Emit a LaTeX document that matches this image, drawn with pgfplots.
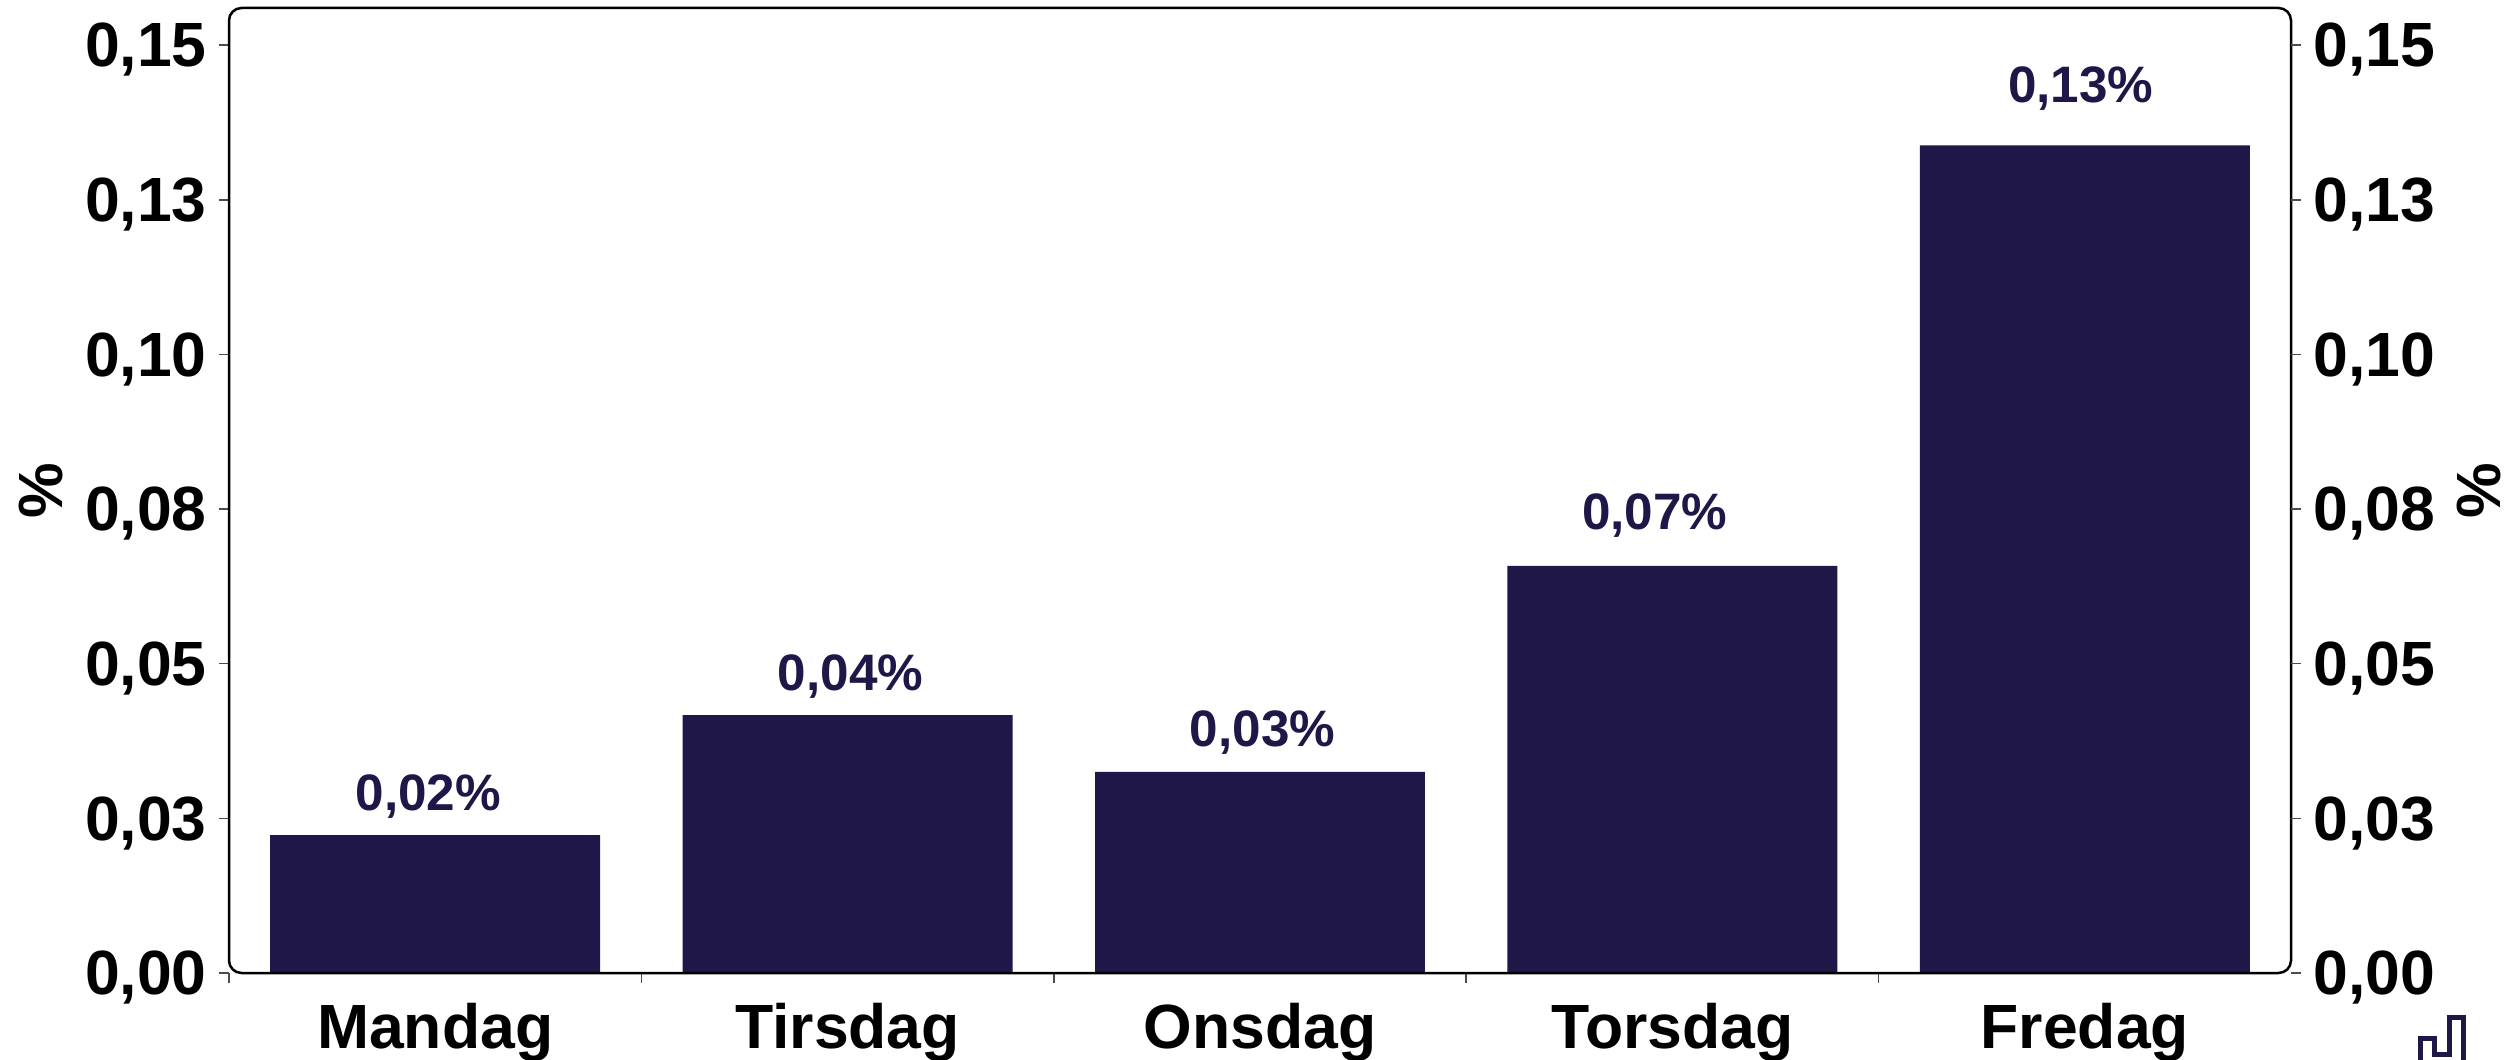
\documentclass[border=0pt]{standalone}
\usepackage{pgfplots}
\pgfplotsset{compat=1.18}
\usepackage{pgfplotstable}
\usepackage{fontspec}
\setmainfont{Liberation Sans}
\definecolor{barblue}{HTML}{1F1747}

\pgfplotstableread{
x y lab
0 0.0223 0.02
1 0.0417 0.04
2 0.0325 0.03
3 0.0658 0.07
4 0.1338 0.13
}\daydata

\pgfplotsset{
  common/.style={
    at={(91.6pt,34.4pt)}, anchor=south west,
    scale only axis, width=824.8pt, height=386pt,
    xmin=-0.5, xmax=4.5, ymin=0, ymax=0.156,
    ytick={0,0.025,0.05,0.075,0.1,0.125,0.15},
    yticklabels={{0,00},{0,03},{0,05},{0,08},{0,10},{0,13},{0,15}},
    tick align=outside,
    major tick length=4pt,
    tick style={draw=black!70, line width=0.6pt},
    ticklabel style={font=\fontsize{25}{25}\selectfont\bfseries},
    label style={font=\fontsize{25}{25}\selectfont\bfseries},
    axis line style={draw=none},
  },
}

\begin{document}
\begin{tikzpicture}
\path[use as bounding box] (0,0) rectangle (1003.6pt,423.6pt);
\begin{axis}[
    common,
    ytick pos=left,
    yticklabel style={inner sep=0pt, xshift=-4.7pt, yshift=-1.9pt},
    xtick={0,1,2,3,4},
    xticklabels={Mandag,Tirsdag,Onsdag,Torsdag,Fredag},
    minor xtick={-0.5,0.5,1.5,2.5,3.5},
    xtick pos=bottom,
    minor tick length=4pt,
    minor tick style={draw=black!70, line width=0.6pt},
    major x tick style={draw=none},
    xticklabel style={inner sep=0pt, text height=18pt, text depth=5.5pt, yshift=-7.8pt},
    ylabel={\%},
    ylabel style={at={(rel axis cs:0,0.5)}, anchor=center, rotate=0, yshift=75pt},
    after end axis/.code={
      \draw[black, line width=1pt, rounded corners=5pt] (rel axis cs:0,0) rectangle (rel axis cs:1,1);
    },
]
\addplot[ybar, bar width=0.8, bar shift=0, fill=barblue, draw=none,
    point meta=explicit,
    nodes near coords={\pgfmathprintnumber[fixed,zerofill,precision=2,use comma,assume math mode=true]{\pgfplotspointmeta}\%},
    every node near coord/.append style={font=\fontsize{20.5}{20.5}\selectfont\bfseries, text=barblue, anchor=base, inner sep=0pt, yshift=10pt},
    coordinate style/.condition={x==0}{xshift=-2.8pt},
    coordinate style/.condition={x==1}{xshift=1.2pt},
    coordinate style/.condition={x==2}{xshift=1pt},
    coordinate style/.condition={x==3}{xshift=-7pt, yshift=4.5pt},
    coordinate style/.condition={x==4}{xshift=-1.6pt, yshift=7pt},
] table[x=x, y=y, meta=lab] {\daydata};
\end{axis}
\begin{axis}[
    common,
    ytick pos=right,
    yticklabel pos=right,
    yticklabel style={inner sep=0pt, xshift=4.7pt, yshift=-1.9pt},
    xtick=\empty,
    ylabel={\%},
    ylabel style={at={(rel axis cs:1,0.5)}, anchor=center, rotate=0, yshift=-75pt},
]
\end{axis}
% logo, cut off by the page edge
\draw[barblue, line width=2pt, miter limit=10]
    (968.2pt,-2pt) -- (968.2pt,8.2pt) -- (973.8pt,8.2pt) -- (973.8pt,2pt)
    -- (979.8pt,2pt) -- (979.8pt,16.6pt) -- (985.4pt,16.6pt) -- (985.4pt,-2pt);
\end{tikzpicture}
\end{document}
